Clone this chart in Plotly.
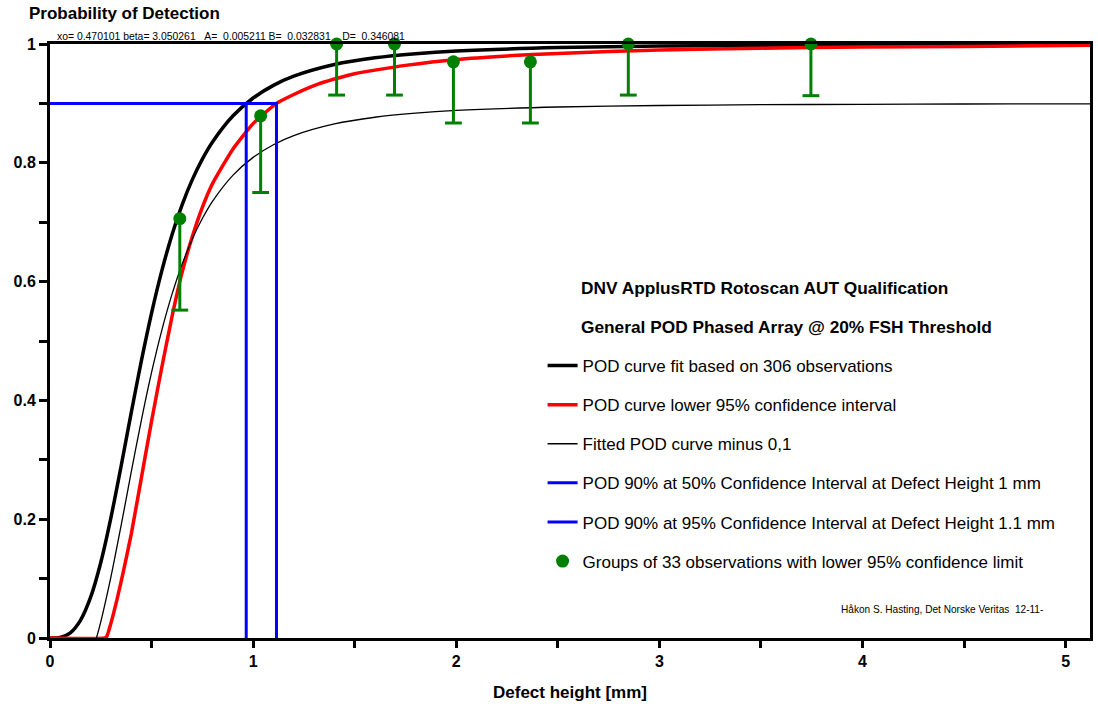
import plotly.graph_objects as go

# ---------------- data ----------------
fit_x = [0, 0.05, 0.1, 0.15, 0.2, 0.25, 0.3, 0.35, 0.4, 0.45, 0.5, 0.55, 0.6, 0.65, 0.7, 0.75,
         0.8, 0.9, 1.0, 1.1, 1.2, 1.4, 1.6, 1.8, 2.0, 2.5, 3.0, 3.5, 4.0, 4.5, 5.0, 5.14]
fit_y = [0, 0.0011, 0.0088, 0.0298, 0.0687, 0.1272, 0.2028, 0.2892, 0.3795, 0.4669, 0.5470,
         0.6176, 0.6781, 0.7289, 0.7712, 0.8062, 0.8351, 0.8788, 0.9091, 0.9304, 0.9458, 0.9654,
         0.9767, 0.9836, 0.9881, 0.9939, 0.9965, 0.9978, 0.9985, 0.9990, 0.9993, 0.9993]

lower_x = [0, 0.27, 0.28, 0.30, 0.33, 0.36, 0.40, 0.45, 0.50, 0.55, 0.60, 0.65, 0.70, 0.75,
           0.80, 0.90, 1.0, 1.115, 1.2, 1.3, 1.4, 1.5, 1.6, 1.75, 2.0, 2.25, 2.5, 3.0, 3.5,
           4.0, 4.5, 5.14]
lower_y = [0, 0, 0.003, 0.025, 0.065, 0.11, 0.175, 0.27, 0.365, 0.455, 0.54, 0.615, 0.675,
           0.725, 0.765, 0.823, 0.866, 0.90, 0.915, 0.930, 0.941, 0.950, 0.956, 0.964, 0.974,
           0.980, 0.984, 0.990, 0.993, 0.995, 0.996, 0.998]

minus_x = [0.2287, 0.25, 0.3, 0.35, 0.4, 0.45, 0.5, 0.55, 0.6, 0.65, 0.7, 0.75, 0.8, 0.9, 1.0,
           1.1, 1.2, 1.4, 1.6, 1.8, 2.0, 2.5, 3.0, 3.5, 4.0, 4.5, 5.0, 5.14]
minus_y = [0, 0.0272, 0.1028, 0.1892, 0.2795, 0.3669, 0.4470, 0.5176, 0.5781, 0.6289, 0.6712,
           0.7062, 0.7351, 0.7788, 0.8091, 0.8304, 0.8458, 0.8654, 0.8767, 0.8836, 0.8881,
           0.8939, 0.8965, 0.8978, 0.8985, 0.8990, 0.8993, 0.8993]

pod50_x = [0, 0.966, 0.966]
pod50_y = [0.9, 0.9, 0]
pod95_x = [0, 1.115, 1.115]
pod95_y = [0.9, 0.9, 0]

grp_x = [0.639, 1.037, 1.411, 1.696, 1.986, 2.365, 2.847, 3.746]
grp_y = [0.706, 0.879, 1.0, 1.0, 0.970, 0.970, 1.0, 1.0]
grp_low = [0.552, 0.750, 0.914, 0.914, 0.867, 0.867, 0.914, 0.913]

x_ticks = [0, 0.5, 1, 1.5, 2, 2.5, 3, 3.5, 4, 4.5, 5]
x_ticktext = ["0", "", "1", "", "2", "", "3", "", "4", "", "5"]
y_ticks = [0, 0.1, 0.2, 0.3, 0.4, 0.5, 0.6, 0.7, 0.8, 0.9, 1.0]
y_ticktext = ["0", "", "0.2", "", "0.4", "", "0.6", "", "0.8", "", "1"]

names = [
    "POD curve fit based on 306 observations",
    "POD curve lower 95% confidence interval",
    "Fitted POD curve minus 0,1",
    "POD 90% at 50% Confidence Interval at Defect Height 1 mm",
    "POD 90% at 95% Confidence Interval at Defect Height 1.1 mm",
    "Groups of 33 observations with lower 95% confidence limit",
]

FONT = "Liberation Sans, Arial, sans-serif"
GREEN = "#008000"

fig = go.Figure()
fig.add_trace(go.Scatter(x=fit_x, y=fit_y, mode="lines", name=names[0], legendgroup="a",
                         line=dict(color="black", width=3.5, shape="spline", smoothing=0.8)))
fig.add_trace(go.Scatter(x=lower_x, y=lower_y, mode="lines", name=names[1], legendgroup="b",
                         line=dict(color="#ff0000", width=3.5, shape="spline", smoothing=0.5)))
fig.add_trace(go.Scatter(x=minus_x, y=minus_y, mode="lines", name=names[2], legendgroup="c",
                         line=dict(color="black", width=1.3, shape="spline", smoothing=0.8)))
fig.add_trace(go.Scatter(x=pod50_x, y=pod50_y, mode="lines", name=names[3], legendgroup="d",
                         line=dict(color="#0000ff", width=3)))
fig.add_trace(go.Scatter(x=pod95_x, y=pod95_y, mode="lines", name=names[4], legendgroup="e",
                         line=dict(color="#0000ff", width=3)))
fig.add_trace(go.Scatter(
    x=grp_x, y=grp_y, mode="markers", name=names[5], legendgroup="f",
    marker=dict(color=GREEN, size=13),
    error_y=dict(type="data", symmetric=False, array=[0] * len(grp_y),
                 arrayminus=[a - b for a, b in zip(grp_y, grp_low)],
                 color=GREEN, thickness=3, width=0),
    cliponaxis=False))
fig.add_trace(go.Scatter(
    x=grp_x, y=grp_low, mode="markers", showlegend=False, legendgroup="f",
    marker=dict(symbol="line-ew", size=12, line=dict(color=GREEN, width=3)),
    hoverinfo="skip"))

fig.update_layout(
    width=1098, height=709,
    margin=dict(l=50, r=5, t=44, b=71),
    paper_bgcolor="white", plot_bgcolor="white",
    font=dict(family=FONT, color="black"),
    showlegend=True,
    legend=dict(x=(544 - 50) / 1043, xanchor="left", y=(638 - 348) / 594, yanchor="top",
                bgcolor="rgba(0,0,0,0)", borderwidth=0,
                font=dict(family=FONT, size=17, color="black"),
                traceorder="grouped", tracegroupgap=14, itemwidth=30),
    xaxis=dict(range=[0, 5.12], tickmode="array", tickvals=x_ticks, ticktext=x_ticktext,
               ticks="outside", ticklen=7, tickwidth=3, tickcolor="black",
               showline=True, linewidth=3, linecolor="black", mirror=True,
               showgrid=False, zeroline=False,
               tickfont=dict(family=FONT, size=16, weight="bold"),
               title=dict(text="Defect height [mm]", standoff=17,
                          font=dict(family=FONT, size=17, weight="bold"))),
    yaxis=dict(range=[0, 1], tickmode="array", tickvals=y_ticks, ticktext=y_ticktext,
               ticks="outside", ticklen=8, tickwidth=3, tickcolor="black",
               showline=True, linewidth=3, linecolor="black", mirror=True,
               showgrid=False, zeroline=False,
               tickfont=dict(family=FONT, size=16, weight="bold")),
    annotations=[
        dict(text="<b>Probability of Detection</b>", xref="paper", yref="paper",
             x=(27 - 50) / 1043, y=(638 - 14) / 594, xanchor="left", yanchor="middle",
             showarrow=False, font=dict(family=FONT, size=17)),
        dict(text="xo= 0.470101 beta= 3.050261\u00a0\u00a0\u00a0A=\u00a0\u00a00.005211 B=\u00a0\u00a00.032831\u00a0\u00a0\u00a0\u00a0D=\u00a0\u00a00.346081",
             xref="paper", yref="paper", x=(55 - 50) / 1043, y=(638 - 36) / 594,
             xanchor="left", yanchor="middle", showarrow=False,
             font=dict(family=FONT, size=10.4)),
        dict(text="<b>DNV ApplusRTD Rotoscan AUT Qualification</b>", xref="paper", yref="paper",
             x=(581 - 50) / 1043, y=(638 - 288) / 594, xanchor="left", yanchor="middle",
             showarrow=False, font=dict(family=FONT, size=17.3)),
        dict(text="<b>General POD Phased Array @ 20% FSH Threshold</b>", xref="paper", yref="paper",
             x=(581 - 50) / 1043, y=(638 - 327) / 594, xanchor="left", yanchor="middle",
             showarrow=False, font=dict(family=FONT, size=17.3)),
        dict(text="Håkon S. Hasting, Det Norske Veritas\u00a0\u00a012-11-", xref="paper", yref="paper",
             x=(1048 - 50) / 1043, y=(638 - 609) / 594, xanchor="right", yanchor="middle",
             showarrow=False, font=dict(family=FONT, size=10.1)),
    ],
)

fig.write_html("out.html", config={"displayModeBar": False})
